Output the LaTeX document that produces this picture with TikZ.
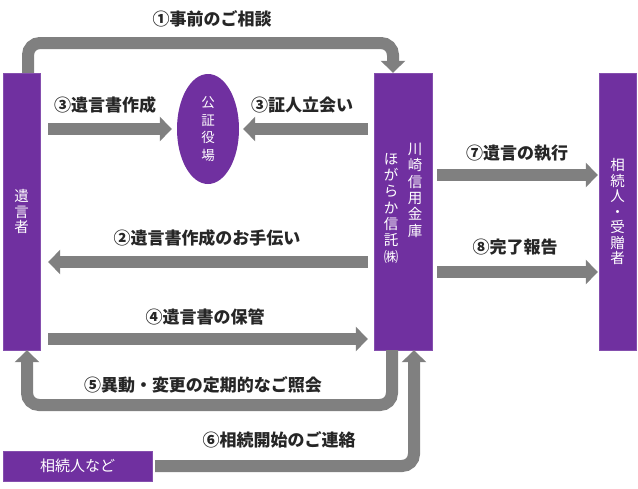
\documentclass[tikz,border=0pt]{standalone}
\usepackage{fontspec}
\newfontfamily\jp{Noto Sans CJK JP}
\usetikzlibrary{arrows.meta, shapes.geometric, positioning}

\definecolor{boxpurple}{RGB}{112,48,160}
\definecolor{flowgray}{RGB}{128,128,128}

\tikzset{
	party/.style={rectangle, fill=boxpurple, draw=boxpurple!85!white,
		text=white, inner sep=0pt, align=center,
		font=\jp\fontsize{14.5}{15.5}\selectfont},
	coltext/.style={text=white, inner sep=0pt, align=center,
		font=\jp\fontsize{14.5}{16.3}\selectfont},
	flow/.style={draw=flowgray, line width=12pt,
		-{Triangle[width=24pt, length=12pt]}},
	lbl/.style={text=black!85, inner sep=0pt,
		font=\jp\bfseries\fontsize{17}{17}\selectfont}
}

\begin{document}
\begin{tikzpicture}[x=1pt, y=-1pt]
	\fill[white] (0,0) rectangle (638,488);
	\useasboundingbox (0,0) rectangle (638,488);

	% Add the parties
	\node[party,
		  minimum width=37pt,
		  minimum height=277pt] (testator) at (21.5,211.5) {遺\\言\\者};
	\node[party,
		  minimum width=58pt,
		  minimum height=277pt] (bank) at (403,211.5) {};
	\node[party,
		  minimum width=37pt,
		  minimum height=277pt] (heirs) at (617.5,211.5) {相\\続\\人\\・\\受\\贈\\者};
	\node[party,
		  minimum width=149pt,
		  minimum height=30pt,
		  font=\jp\fontsize{15}{15}\selectfont] (family) at (77.5,466) {相続人など};
	\node[ellipse,
		  fill=boxpurple,
		  text=white,
		  inner sep=0pt,
		  minimum width=62pt,
		  minimum height=110pt,
		  align=center,
		  font=\jp\fontsize{13.5}{17.5}\selectfont] (notary) at (208,129) {公\\証\\役\\場};

	% Bank name in two columns
	\node[coltext, anchor=north] (bankname) at (415,143) {川\\崎\\信\\用\\金\\庫};
	\node[coltext, anchor=north] (trustname) at (391,153) {ほ\\が\\ら\\か\\信\\託\\㈱};

	% Add the flows
	\draw[flow, rounded corners=12pt]
		([xshift=6.5pt]testator.north) |- ([xshift=-10pt]bank.north |- 0,43)
		-- ([xshift=-10pt]bank.north);
	\draw[flow] ([xshift=8pt]testator.east |- notary) -- ([xshift=-5pt]notary.west);
	\draw[flow] ([xshift=-6pt]bank.west |- notary) -- ([xshift=4pt]notary.east);
	\draw[flow] ([xshift=-6pt]bank.west |- 0,262) -- ([xshift=8pt]testator.east |- 0,262);
	\draw[flow] ([xshift=8pt]testator.east |- 0,339) -- ([xshift=-6pt]bank.west |- 0,339);
	\draw[flow, rounded corners=12pt]
		([xshift=-11pt]bank.south) |- ([xshift=5.5pt]testator.south |- 0,405)
		-- ([xshift=5.5pt]testator.south);
	\draw[flow, rounded corners=12pt]
		([xshift=3pt]family.east) -| ([xshift=11pt]bank.south);
	\draw[flow] ([xshift=5pt]bank.east |- 0,175) -- ([xshift=-1pt]heirs.west |- 0,175);
	\draw[flow] ([xshift=5pt]bank.east |- 0,272) -- ([xshift=-1pt]heirs.west |- 0,272);

	% Add the labels
	\node[lbl] (l1) at (212,19) {①事前のご相談};
	\node[lbl] (l3a) at (105,105) {③遺言書作成};
	\node[lbl] (l3b) at (302,105) {③証人立会い};
	\node[lbl] (l2) at (207,238) {②遺言書作成のお手伝い};
	\node[lbl] (l4) at (205,317) {④遺言書の保管};
	\node[lbl] (l5) at (203,385) {⑤異動・変更の定期的なご照会};
	\node[lbl] (l6) at (279,440) {⑥相続開始のご連絡};
	\node[lbl] (l7) at (517,153) {⑦遺言の執行};
	\node[lbl] (l8) at (515,247) {⑧完了報告};
\end{tikzpicture}
\end{document}
